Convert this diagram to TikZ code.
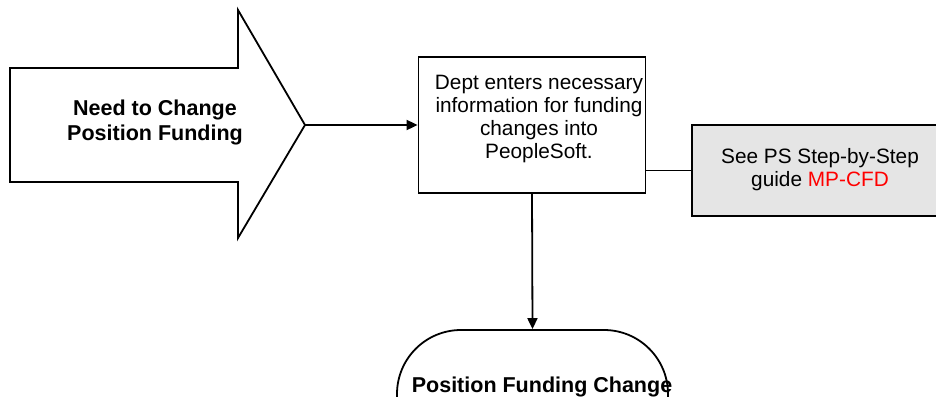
\documentclass[tikz,border=0pt]{standalone}
\usepackage{fontspec}
\setmainfont{Liberation Sans}
\usetikzlibrary{arrows.meta}
\definecolor{greybox}{RGB}{229,229,229}
\tikzset{
  shapeline/.style={draw=black, line width=1.8pt},
  conn/.style={draw=black, line width=1.8pt},
  arr/.style={conn, -{Triangle[length=11pt,width=10pt]}},
  bodytext/.style={font=\fontsize{20.8}{23}\selectfont, align=center, inner sep=0pt},
  boldtext/.style={font=\fontsize{21.5}{25}\selectfont\bfseries, align=center, inner sep=0pt},
}
\begin{document}
\begin{tikzpicture}[x=1pt, y=-1pt]
\useasboundingbox (0,0) rectangle (936,396);
\clip (0,0) rectangle (936,396);
\fill[white] (0,0) rectangle (936,396);
% big arrow
\draw[shapeline, line join=miter] (10,68) -- (238,68) -- (238,10) -- (305,125) -- (238,238) -- (238,182) -- (10,182) -- cycle;
\coordinate (tip) at (305,125);
\node[boldtext] (need) at (155,122) {Need to Change\\Position Funding};
% main box
\node[shapeline, fill=white, minimum width=227pt, minimum height=136pt, inner sep=0pt] (box) at (532,125) {};
\node[bodytext] (boxtext) at (539,119) {Dept enters necessary\\information for funding\\changes into\\PeopleSoft.};
% grey box
\node[shapeline, fill=greybox, minimum width=256pt, minimum height=91pt, inner sep=0pt] (grey) at (820,170.5) {};
\node[bodytext] (greytext) at (820,170) {See PS Step-by-Step\\guide \textcolor{red}{MP-CFD}};
% terminator
\node[shapeline, fill=white, rounded corners=64pt, minimum width=271pt, minimum height=200pt, inner sep=0pt] (term) at (532.5,430) {};
\node[boldtext, anchor=base] (termtext) at (542,392) {Position Funding Change};
% connectors
\draw[arr] (tip) -- (box.west);
\draw[conn] (box.east |- grey.west) -- (grey.west);
\draw[arr] (box.south) -- (term.north);
\end{tikzpicture}
\end{document}
